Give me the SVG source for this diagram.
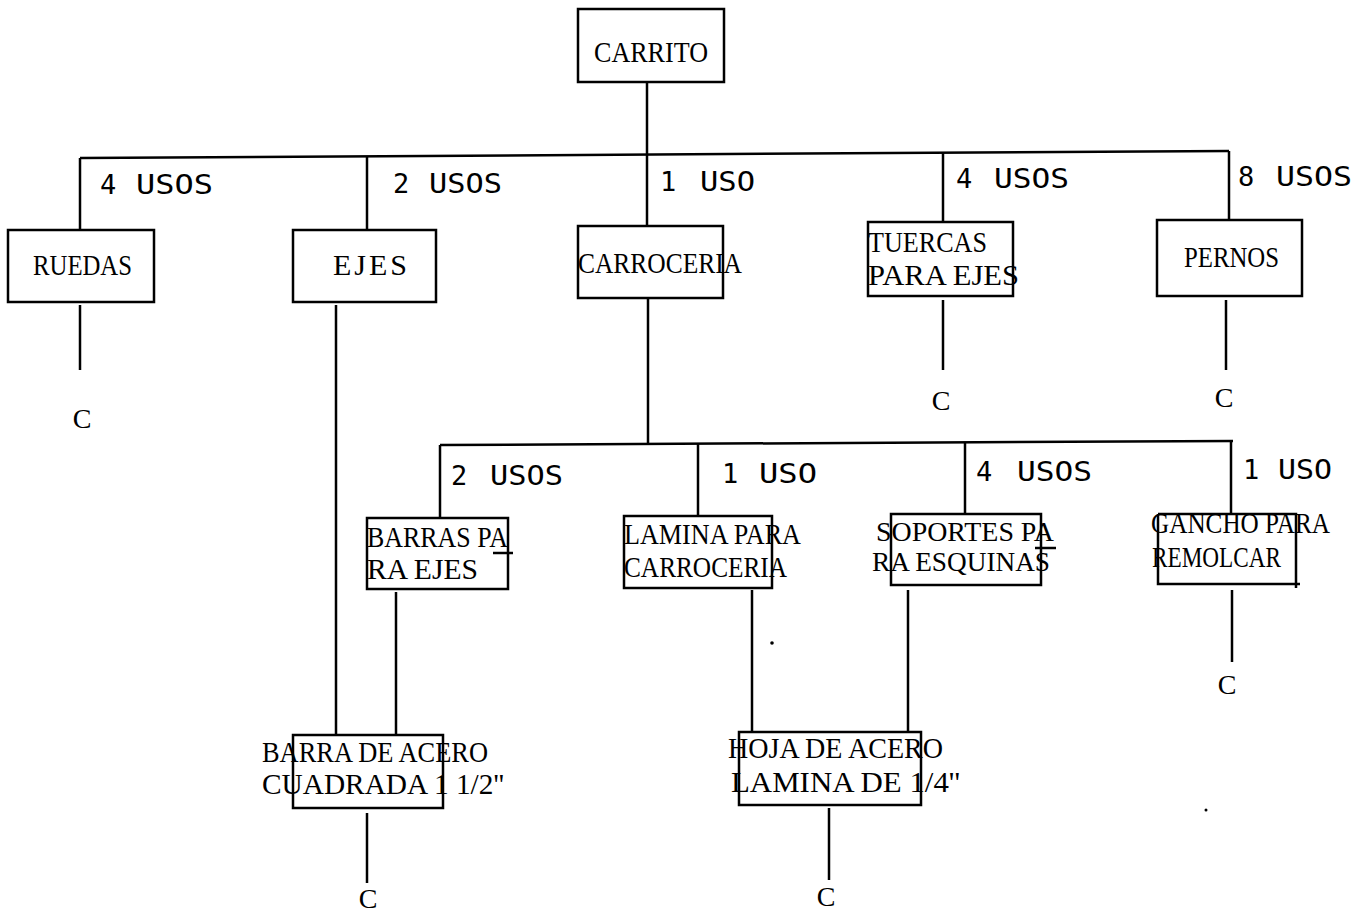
<svg xmlns="http://www.w3.org/2000/svg" width="1363" height="914" viewBox="0 0 1363 914">
<style>
.bg{fill:#fff}
.box{fill:none;stroke:#000;stroke-width:2.5}
.ln{fill:none;stroke:#000;stroke-width:2.5}
.lbl{font-family:"Liberation Serif","DejaVu Serif",serif;font-size:30px;fill:#000}
.sm{font-size:27px}
.use{font-family:"DejaVu Sans Mono","Liberation Mono",monospace;font-size:27px;fill:#000}
.c{font-family:"Liberation Serif","DejaVu Serif",serif;font-size:28px;fill:#000;text-anchor:middle}
</style>
<rect class="bg" x="0" y="0" width="1363" height="914"/>
<g id="connectors">
  <path class="ln" d="M647 82V225"/>
  <path class="ln" d="M80 158L1229 151"/>
  <path class="ln" d="M80 158V229"/>
  <path class="ln" d="M367 156V229"/>
  <path class="ln" d="M943 152V222"/>
  <path class="ln" d="M1229 151V220"/>
  <path class="ln" d="M80 305V370"/>
  <path class="ln" d="M336 305V734"/>
  <path class="ln" d="M943 300V370"/>
  <path class="ln" d="M1226 300V370"/>
  <path class="ln" d="M648 298V444"/>
  <path class="ln" d="M440 445L1233 441"/>
  <path class="ln" d="M440 445V518"/>
  <path class="ln" d="M698 444V515"/>
  <path class="ln" d="M965 442V514"/>
  <path class="ln" d="M1231 441V514"/>
  <path class="ln" d="M396 592V734"/>
  <path class="ln" d="M752 590V731"/>
  <path class="ln" d="M908 590V731"/>
  <path class="ln" d="M1232 590V662"/>
  <path class="ln" d="M367 813V883"/>
  <path class="ln" d="M829 808V880"/>
  <text class="use" y="194"><tspan x="100">4</tspan><tspan x="136" textLength="77" lengthAdjust="spacingAndGlyphs">USOS</tspan></text>
  <text class="use" y="193"><tspan x="393">2</tspan><tspan x="429" textLength="73" lengthAdjust="spacingAndGlyphs">USOS</tspan></text>
  <text class="use" y="191"><tspan x="660">1</tspan><tspan x="700" textLength="55" lengthAdjust="spacingAndGlyphs">USO</tspan></text>
  <text class="use" y="188"><tspan x="956">4</tspan><tspan x="994" textLength="75" lengthAdjust="spacingAndGlyphs">USOS</tspan></text>
  <text class="use" y="186"><tspan x="1238">8</tspan><tspan x="1276" textLength="76" lengthAdjust="spacingAndGlyphs">USOS</tspan></text>
  <text class="use" y="485"><tspan x="451">2</tspan><tspan x="490" textLength="73" lengthAdjust="spacingAndGlyphs">USOS</tspan></text>
  <text class="use" y="483"><tspan x="722">1</tspan><tspan x="759" textLength="58" lengthAdjust="spacingAndGlyphs">USO</tspan></text>
  <text class="use" y="481"><tspan x="976">4</tspan><tspan x="1017" textLength="75" lengthAdjust="spacingAndGlyphs">USOS</tspan></text>
  <text class="use" y="479"><tspan x="1243">1</tspan><tspan x="1278" textLength="54" lengthAdjust="spacingAndGlyphs">USO</tspan></text>
  <text class="c" x="82" y="428">C</text>
  <text class="c" x="941" y="410">C</text>
  <text class="c" x="1224" y="407">C</text>
  <text class="c" x="1227" y="694">C</text>
  <text class="c" x="368" y="908">C</text>
  <text class="c" x="826" y="906">C</text>
  <circle cx="772" cy="643" r="1.8" fill="#000"/>
  <circle cx="1206" cy="810" r="1.5" fill="#000"/>
</g>
<g id="carrito">
  <rect class="box" x="578" y="9" width="146" height="73"/>
  <text class="lbl" x="594" y="62" textLength="114" lengthAdjust="spacingAndGlyphs">CARRITO</text>
</g>
<g id="ruedas">
  <rect class="box" x="8" y="230" width="146" height="72"/>
  <text class="lbl" x="33" y="275" textLength="99" lengthAdjust="spacingAndGlyphs">RUEDAS</text>
</g>
<g id="ejes">
  <rect class="box" x="293" y="230" width="143" height="72"/>
  <text class="lbl" x="333" y="275" textLength="74" lengthAdjust="spacing">EJES</text>
</g>
<g id="carroceria">
  <rect class="box" x="578" y="226" width="145" height="72"/>
  <text class="lbl" x="578" y="273" textLength="164" lengthAdjust="spacingAndGlyphs">CARROCERIA</text>
</g>
<g id="tuercas">
  <rect class="box" x="868" y="222" width="145" height="74"/>
  <text class="lbl" x="868" y="252" textLength="119" lengthAdjust="spacingAndGlyphs">TUERCAS</text>
  <text class="lbl" x="868" y="285" textLength="151" lengthAdjust="spacingAndGlyphs">PARA EJES</text>
</g>
<g id="pernos">
  <rect class="box" x="1157" y="220" width="145" height="76"/>
  <text class="lbl" x="1184" y="267" textLength="95" lengthAdjust="spacingAndGlyphs">PERNOS</text>
</g>
<g id="barras">
  <rect class="box" x="367" y="518" width="141" height="71"/>
  <text class="lbl" x="367" y="547" textLength="141" lengthAdjust="spacingAndGlyphs">BARRAS PA</text>
  <text class="lbl" x="367" y="579" textLength="111" lengthAdjust="spacingAndGlyphs">RA EJES</text>
  <path class="ln" d="M493 553H513" stroke-width="2"/>
</g>
<g id="lamina">
  <rect class="box" x="624" y="516" width="148" height="72"/>
  <text class="lbl" x="624" y="544" textLength="177" lengthAdjust="spacingAndGlyphs">LAMINA PARA</text>
  <text class="lbl" x="624" y="577" textLength="163" lengthAdjust="spacingAndGlyphs">CARROCERIA</text>
</g>
<g id="soportes">
  <rect class="box" x="891" y="514" width="150" height="71"/>
  <text class="lbl sm" x="876" y="541" textLength="178" lengthAdjust="spacingAndGlyphs">SOPORTES PA</text>
  <text class="lbl sm" x="872" y="571" textLength="178" lengthAdjust="spacingAndGlyphs">RA ESQUINAS</text>
  <path class="ln" d="M1035 548H1056" stroke-width="2"/>
</g>
<g id="gancho">
  <path class="box" d="M1158 514H1296V588M1158 514V584H1300"/>
  <text class="lbl" x="1151" y="533" textLength="179" lengthAdjust="spacingAndGlyphs">GANCHO PARA</text>
  <text class="lbl" x="1152" y="567" textLength="129" lengthAdjust="spacingAndGlyphs">REMOLCAR</text>
</g>
<g id="barra-acero">
  <rect class="box" x="293" y="735" width="150" height="73"/>
  <text class="lbl" x="262" y="762" textLength="226" lengthAdjust="spacingAndGlyphs">BARRA DE ACERO</text>
  <text class="lbl" x="262" y="794" textLength="242" lengthAdjust="spacingAndGlyphs">CUADRADA 1 1/2''</text>
</g>
<g id="hoja-acero">
  <rect class="box" x="739" y="732" width="182" height="73"/>
  <text class="lbl" x="728" y="758" textLength="215" lengthAdjust="spacingAndGlyphs">HOJA DE ACERO</text>
  <text class="lbl" x="731" y="792" textLength="229" lengthAdjust="spacingAndGlyphs">LAMINA DE 1/4''</text>
</g>
</svg>
